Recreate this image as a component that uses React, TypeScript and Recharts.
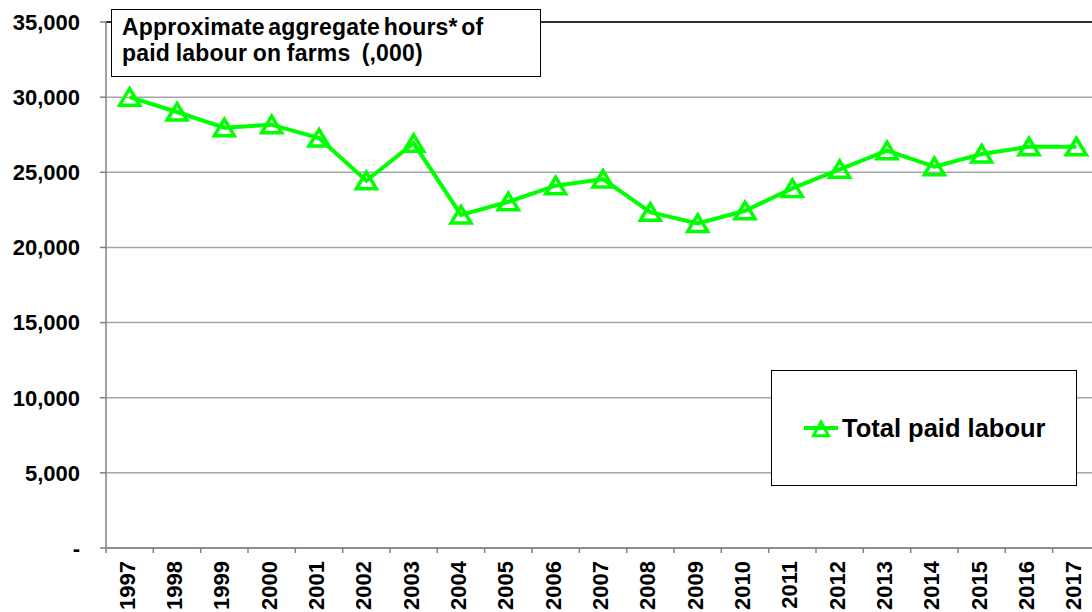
import React from 'react';
import { LineChart, Line, XAxis, YAxis, CartesianGrid, ReferenceLine } from 'recharts';

const years = [
  '1997', '1998', '1999', '2000', '2001', '2002', '2003', '2004', '2005', '2006', '2007',
  '2008', '2009', '2010', '2011', '2012', '2013', '2014', '2015', '2016', '2017',
];
const paidLabour = [
  30000, 29010, 27970, 28170, 27280, 24440, 26930, 22160, 23040, 24110, 24550,
  22340, 21600, 22440, 23930, 25200, 26440, 25370, 26220, 26700, 26700,
];
const yTicks = [0, 5000, 10000, 15000, 20000, 25000, 30000, 35000];
const titleLines = ['Approximate aggregate hours* of', 'paid labour on farms  (,000)'];
const seriesName = 'Total paid labour';

const GREEN = '#00ff00';
const FONT = '"Liberation Sans", Arial, sans-serif';
const CHART_W = 1110;
const CHART_H = 612;
const AXIS_W = 106;
const RIGHT = 10;
const BAND = (CHART_W - AXIS_W - RIGHT) / years.length;

const data = years.map((year, i) => ({ year, labour: paidLabour[i] }));

// triangle outline centred on the point, apex up
const tri = (cx: number, cy: number, hw: number, h: number) =>
  `M${cx},${cy - h} L${cx + hw},${cy + h * 0.95} L${cx - hw},${cy + h * 0.95} Z`;

const YearTick = (props: any) => {
  const { x, payload } = props;
  const left = x - BAND / 2;
  return (
    <g>
      <line x1={left} y1={548} x2={left} y2={553} stroke="#808080" strokeWidth={1.5} />
      <text
        x={x + 5}
        y={561}
        textAnchor="end"
        transform={`rotate(-90, ${x + 5}, 561)`}
        fill="#000"
        fontSize={22}
        fontWeight="bold"
        fontFamily={FONT}
      >
        {payload.value}
      </text>
    </g>
  );
};

const LegendBox = () => (
  <div
    style={{
      position: 'absolute',
      left: 771,
      top: 370,
      width: 306,
      height: 116,
      boxSizing: 'border-box',
      border: '1.5px solid #000',
      background: '#fff',
      display: 'flex',
      alignItems: 'center',
      paddingLeft: 31,
    }}
  >
    <svg width={37} height={22} style={{ display: 'block' }}>
      <line x1={1} y1={11} x2={35} y2={11} stroke={GREEN} strokeWidth={4} />
      <path d={tri(18, 12, 7.5, 7)} fill="none" stroke={GREEN} strokeWidth={3} />
    </svg>
    <span style={{ fontFamily: FONT, fontWeight: 'bold', fontSize: 25.5, color: '#000', marginLeft: 2 }}>
      {seriesName}
    </span>
  </div>
);

export default function App() {
  return (
    <div
      style={{
        position: 'absolute',
        left: 0,
        top: 0,
        width: 1092,
        height: 612,
        overflow: 'hidden',
        background: '#fff',
      }}
    >
      <LineChart
        width={CHART_W}
        height={CHART_H}
        data={data}
        margin={{ top: 22, right: RIGHT, bottom: 0, left: 0 }}
      >
        <CartesianGrid vertical={false} stroke="#a6a6a6" strokeWidth={1.5} />
        <XAxis
          dataKey="year"
          scale="band"
          interval={0}
          height={64}
          tickLine={false}
          axisLine={{ stroke: '#808080', strokeWidth: 1.5 }}
          tick={<YearTick />}
        />
        <YAxis
          width={AXIS_W}
          domain={[0, 35000]}
          ticks={yTicks}
          interval={0}
          tickSize={6}
          tickMargin={20}
          tickLine={{ stroke: '#808080', strokeWidth: 1.5 }}
          axisLine={{ stroke: '#808080', strokeWidth: 1.5 }}
          tickFormatter={(v: number) => (v === 0 ? '-' : v.toLocaleString('en-US'))}
          tick={{ fill: '#000', fontSize: 22, fontWeight: 'bold', fontFamily: FONT }}
        />
        <ReferenceLine y={35000} stroke="#000" strokeWidth={1.5} />
        <Line
          type="linear"
          dataKey="labour"
          name={seriesName}
          stroke={GREEN}
          strokeWidth={4}
          isAnimationActive={false}
          dot={(p: any) => (
            <path
              key={`dot-${p.index}`}
              d={tri(p.cx, p.cy, 10, 8.5)}
              fill="none"
              stroke={GREEN}
              strokeWidth={3.5}
            />
          )}
          activeDot={false}
        />
      </LineChart>
      <LegendBox />
      <div
        style={{
          position: 'absolute',
          left: 111,
          top: 9,
          width: 430,
          height: 68,
          boxSizing: 'border-box',
          border: '1.5px solid #000',
          background: '#fff',
          padding: '4px 10px',
          fontFamily: FONT,
          fontWeight: 'bold',
          fontSize: 23,
          lineHeight: '26px',
          color: '#000',
          whiteSpace: 'pre',
          letterSpacing: 0.2,
        }}
      >
        <div style={{ wordSpacing: -3 }}>{titleLines[0]}</div>
        <div style={{ wordSpacing: -1 }}>{titleLines[1]}</div>
      </div>
    </div>
  );
}
